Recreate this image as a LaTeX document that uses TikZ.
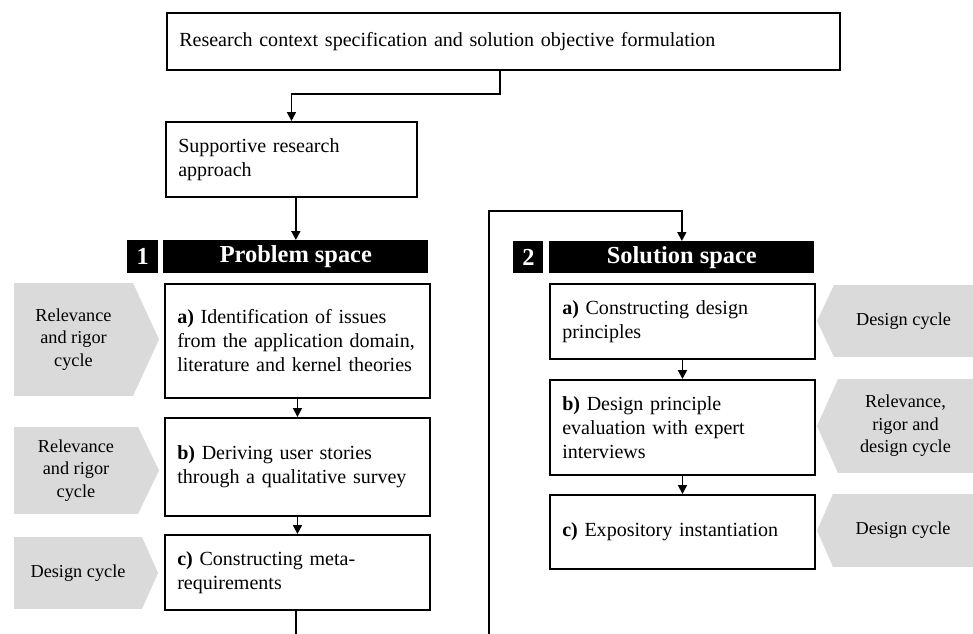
\documentclass[tikz,border=0pt]{standalone}
\usepackage{fontspec}
\setmainfont{Liberation Serif}
\usetikzlibrary{arrows.meta,positioning,calc}
\definecolor{cyclegray}{HTML}{DADADA}
\newcommand{\boxfont}{\fontsize{11.4}{13.7}\selectfont}
\newcommand{\cyclefont}{\fontsize{10.4}{12.8}\selectfont}
\tikzstyle{stepbox}=[draw,line width=1.1pt,anchor=north west,align=left,inner xsep=7pt,inner ysep=0pt,font=\boxfont]
\tikzstyle{headbox}=[fill=black,text=white,anchor=north west,inner sep=0pt,font=\fontsize{13.9}{16}\selectfont\bfseries]
\tikzstyle{cyclebox}=[fill=cyclegray,anchor=north west,align=center,inner sep=0pt,outer sep=0pt,font=\cyclefont]
\tikzstyle{edge}=[draw,line width=1pt,-{Triangle[length=5pt,width=5pt]}]
\tikzstyle{line}=[draw,line width=1pt]

\begin{document}
\begin{tikzpicture}[x=0.02cm,y=-0.02cm]
    \useasboundingbox (0,0) rectangle (973,634);

    % top part
    \node[stepbox,minimum width=673*0.02cm,minimum height=57*0.02cm,text width=673*0.02cm-14pt] (context) at (166,12)
        {Research context specification and solution objective formulation};
    \node[stepbox,minimum width=251*0.02cm,minimum height=75*0.02cm,text width=251*0.02cm-14pt] (support) at (165,121)
        {Supportive research\\approach};
    \coordinate (split) at (500,94);
    \path[edge] (context.south -| split) -- (split) -| (support.north);

    % headers
    \node[headbox,minimum width=31*0.02cm,minimum height=33*0.02cm] (num1) at (127,240) {1};
    \node[headbox,minimum width=265*0.02cm,minimum height=33*0.02cm] (probhead) at (163,240) {Problem space};
    \node[headbox,minimum width=30*0.02cm,minimum height=32*0.02cm] (num2) at (513,241) {2};
    \node[headbox,minimum width=265*0.02cm,minimum height=32*0.02cm] (solhead) at (549,241) {Solution space};

    % steps
    \foreach \name/\x/\y/\h/\txt in {
        pa/164/283/114/{\textbf{a)} Identification of issues\\from the application domain,\\literature and kernel theories},
        pb/164/417/98/{\textbf{b)} Deriving user stories\\through a qualitative survey},
        pc/164/534/75/{\textbf{c)} Constructing meta-\\requirements},
        sa/549/283/75/{\textbf{a)} Constructing design\\principles},
        sb/549/379/95/{\textbf{b)} Design principle\\evaluation with expert\\interviews},
        sc/549/494/74/{\textbf{c)} Expository instantiation}}
        \node[stepbox,minimum width=265*0.02cm,minimum height=\h*0.02cm,text width=265*0.02cm-14pt] (\name) at (\x,\y) {\txt};

    % cycles on the left
    \foreach \name/\y/\w/\h/\tip/\txt in {
        lc1/283/119/113/26/{Relevance\\and rigor\\cycle},
        lc2/427/124/87/21/{Relevance\\and rigor\\cycle},
        lc3/537/128/72/16/{Design cycle}}
    {
        \node[cyclebox,minimum width=\w*0.02cm,minimum height=\h*0.02cm] (\name) at (14,\y) {\txt};
        \fill[cyclegray] (\name.north east) -- ($(\name.east)+(\tip,0)$) -- (\name.south east) -- cycle;
    }

    % cycles on the right
    \foreach \name/\x/\y/\h/\tip/\txt in {
        rc1/834/285/72/17/{Design cycle},
        rc2/838/379/94/21/{Relevance,\\rigor and\\design cycle},
        rc3/833/494/73/16/{Design cycle}}
    {
        \node[cyclebox,minimum width=(973-\x)*0.02cm,minimum height=\h*0.02cm] (\name) at (\x,\y) {\txt};
        \fill[cyclegray] (\name.north west) -- ($(\name.west)-(\tip,0)$) -- (\name.south west) -- cycle;
    }

    % connectors
    \path[edge] (support.south -| probhead.north) -- (probhead.north);
    \foreach \source/\dest in {pa/pb, pb/pc, sa/sb, sb/sc}
        \path[edge] (\source) -- (\dest);
    \coordinate (pend) at (296,634);
    \path[line] (pc.south -| pend) -- (pend);
    \coordinate (sstart) at (489,634);
    \path[edge] (sstart) |- ([yshift=0.6cm]solhead.north) -- (solhead.north);

\end{tikzpicture}
\end{document}
